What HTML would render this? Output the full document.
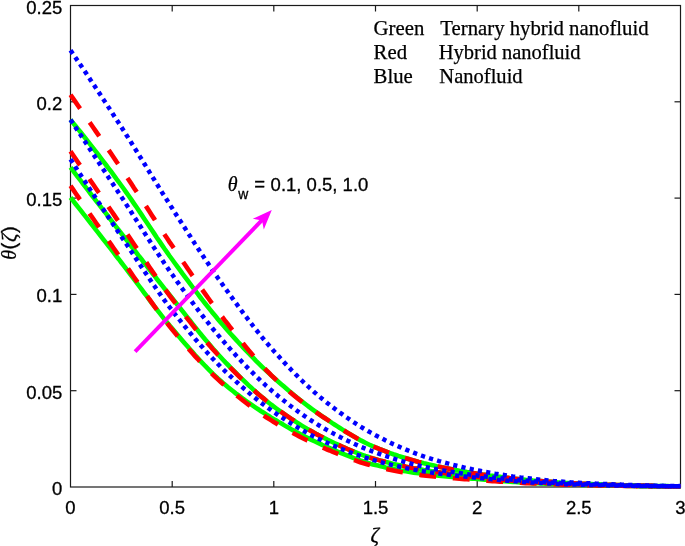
<!DOCTYPE html>
<html><head><meta charset="utf-8"><title>Temperature profile</title>
<style>
html,body{margin:0;padding:0;background:#fff;}
body{width:685px;height:546px;overflow:hidden;}
svg{display:block;}
.t{font-family:"Liberation Sans",Arial,sans-serif;font-size:18.5px;fill:#000;stroke:#000;stroke-width:0.3px;}
.s{font-family:"Liberation Serif","Times New Roman",serif;font-size:20.75px;fill:#000;stroke:#000;stroke-width:0.25px;}
.z{font-family:"Liberation Serif",serif;font-size:21px;}
</style></head><body>
<svg width="685" height="546" viewBox="0 0 685 546">
<rect width="685" height="546" fill="#fff"/>
<rect x="70.5" y="5.5" width="610.0" height="481.5" fill="none" stroke="#1a1a1a" stroke-width="1.2"/>
<line x1="172.2" y1="487.0" x2="172.2" y2="481.0" stroke="#1a1a1a" stroke-width="1.2"/>
<line x1="172.2" y1="5.5" x2="172.2" y2="11.5" stroke="#1a1a1a" stroke-width="1.2"/>
<line x1="273.8" y1="487.0" x2="273.8" y2="481.0" stroke="#1a1a1a" stroke-width="1.2"/>
<line x1="273.8" y1="5.5" x2="273.8" y2="11.5" stroke="#1a1a1a" stroke-width="1.2"/>
<line x1="375.5" y1="487.0" x2="375.5" y2="481.0" stroke="#1a1a1a" stroke-width="1.2"/>
<line x1="375.5" y1="5.5" x2="375.5" y2="11.5" stroke="#1a1a1a" stroke-width="1.2"/>
<line x1="477.2" y1="487.0" x2="477.2" y2="481.0" stroke="#1a1a1a" stroke-width="1.2"/>
<line x1="477.2" y1="5.5" x2="477.2" y2="11.5" stroke="#1a1a1a" stroke-width="1.2"/>
<line x1="578.8" y1="487.0" x2="578.8" y2="481.0" stroke="#1a1a1a" stroke-width="1.2"/>
<line x1="578.8" y1="5.5" x2="578.8" y2="11.5" stroke="#1a1a1a" stroke-width="1.2"/>
<line x1="70.5" y1="390.7" x2="76.5" y2="390.7" stroke="#1a1a1a" stroke-width="1.2"/>
<line x1="680.5" y1="390.7" x2="674.5" y2="390.7" stroke="#1a1a1a" stroke-width="1.2"/>
<line x1="70.5" y1="294.4" x2="76.5" y2="294.4" stroke="#1a1a1a" stroke-width="1.2"/>
<line x1="680.5" y1="294.4" x2="674.5" y2="294.4" stroke="#1a1a1a" stroke-width="1.2"/>
<line x1="70.5" y1="198.1" x2="76.5" y2="198.1" stroke="#1a1a1a" stroke-width="1.2"/>
<line x1="680.5" y1="198.1" x2="674.5" y2="198.1" stroke="#1a1a1a" stroke-width="1.2"/>
<line x1="70.5" y1="101.8" x2="76.5" y2="101.8" stroke="#1a1a1a" stroke-width="1.2"/>
<line x1="680.5" y1="101.8" x2="674.5" y2="101.8" stroke="#1a1a1a" stroke-width="1.2"/>
<defs><clipPath id="c"><rect x="67.5" y="5.5" width="613.6" height="485.5"/></clipPath></defs>
<g clip-path="url(#c)">
<polyline fill="none" stroke="#00ff00" stroke-width="4.6" points="70.5,197.5 73.0,200.7 75.6,204.0 78.1,207.2 80.7,210.4 83.2,213.7 85.8,216.9 88.3,220.1 90.8,223.4 93.4,226.6 95.9,229.9 98.5,233.1 101.0,236.4 103.5,239.6 106.1,242.9 108.6,246.2 111.2,249.4 113.7,252.7 116.2,256.0 118.8,259.2 121.3,262.5 123.9,265.8 126.4,269.1 129.0,272.5 131.5,275.8 134.0,279.2 136.6,282.6 139.1,286.0 141.7,289.4 144.2,292.8 146.8,296.2 149.3,299.6 151.8,303.0 154.4,306.3 156.9,309.6 159.5,312.9 162.0,316.1 164.5,319.3 167.1,322.4 169.6,325.5 172.2,328.5 174.7,331.5 177.2,334.5 179.8,337.5 182.3,340.4 184.9,343.4 187.4,346.3 190.0,349.2 192.5,352.1 195.0,355.0 197.6,357.8 200.1,360.6 202.7,363.3 205.2,366.0 207.8,368.6 210.3,371.2 212.8,373.7 215.4,376.1 217.9,378.5 220.5,380.8 223.0,383.0 225.5,385.1 228.1,387.3 230.6,389.3 233.2,391.3 235.7,393.3 238.3,395.2 240.8,397.1 243.3,399.0 245.9,400.8 248.4,402.6 251.0,404.4 253.5,406.1 256.0,407.8 258.6,409.5 261.1,411.2 263.7,412.8 266.2,414.4 268.8,416.0 271.3,417.6 273.8,419.1 276.4,420.6 278.9,422.1 281.5,423.6 284.0,425.1 286.5,426.6 289.1,428.0 291.6,429.5 294.2,430.9 296.7,432.3 299.2,433.6 301.8,435.0 304.3,436.3 306.9,437.6 309.4,438.9 312.0,440.1 314.5,441.3 317.0,442.5 319.6,443.7 322.1,444.9 324.7,446.0 327.2,447.1 329.8,448.2 332.3,449.3 334.8,450.4 337.4,451.5 339.9,452.6 342.5,453.7 345.0,454.7 347.5,455.7 350.1,456.7 352.6,457.7 355.2,458.7 357.7,459.6 360.2,460.5 362.8,461.3 365.3,462.1 367.9,462.9 370.4,463.7 373.0,464.4 375.5,465.0 378.0,465.6 380.6,466.2 383.1,466.8 385.7,467.4 388.2,467.9 390.8,468.5 393.3,469.0 395.8,469.5 398.4,470.0 400.9,470.4 403.5,470.9 406.0,471.3 408.5,471.8 411.1,472.2 413.6,472.6 416.2,472.9 418.7,473.3 421.2,473.6 423.8,474.0 426.3,474.3 428.9,474.6 431.4,474.9 434.0,475.2 436.5,475.5 439.0,475.7 441.6,476.0 444.1,476.2 446.7,476.5 449.2,476.7 451.8,476.9 454.3,477.1 456.8,477.3 459.4,477.6 461.9,477.8 464.5,478.0 467.0,478.2 469.5,478.4 472.1,478.6 474.6,478.8 477.2,479.0 479.7,479.2 482.2,479.4 484.8,479.6 487.3,479.8 489.9,480.1 492.4,480.3 495.0,480.5 497.5,480.7 500.0,480.9 502.6,481.1 505.1,481.3 507.7,481.5 510.2,481.7 512.8,481.9 515.3,482.0 517.8,482.2 520.4,482.4 522.9,482.5 525.5,482.7 528.0,482.8 530.5,482.9 533.1,483.1 535.6,483.2 538.2,483.3 540.7,483.4 543.2,483.5 545.8,483.7 548.3,483.8 550.9,483.9 553.4,484.0 556.0,484.1 558.5,484.2 561.0,484.3 563.6,484.4 566.1,484.4 568.7,484.5 571.2,484.6 573.8,484.7 576.3,484.7 578.8,484.8 581.4,484.9 583.9,484.9 586.5,485.0 589.0,485.0 591.5,485.1 594.1,485.2 596.6,485.2 599.2,485.3 601.7,485.3 604.2,485.4 606.8,485.4 609.3,485.5 611.9,485.6 614.4,485.6 617.0,485.7 619.5,485.7 622.0,485.8 624.6,485.8 627.1,485.9 629.7,485.9 632.2,485.9 634.8,486.0 637.3,486.0 639.8,486.1 642.4,486.1 644.9,486.1 647.5,486.2 650.0,486.2 652.5,486.2 655.1,486.3 657.6,486.3 660.2,486.3 662.7,486.3 665.3,486.3 667.8,486.4 670.3,486.4 672.9,486.4 675.4,486.4 678.0,486.4 680.5,486.4"/>
<polyline fill="none" stroke="#00ff00" stroke-width="4.6" points="70.5,167.4 73.0,170.7 75.6,174.1 78.1,177.4 80.7,180.7 83.2,184.0 85.8,187.3 88.3,190.6 90.8,194.0 93.4,197.3 95.9,200.6 98.5,203.9 101.0,207.2 103.5,210.4 106.1,213.7 108.6,217.0 111.2,220.3 113.7,223.6 116.2,226.9 118.8,230.1 121.3,233.4 123.9,236.7 126.4,239.9 129.0,243.2 131.5,246.5 134.0,249.7 136.6,253.0 139.1,256.3 141.7,259.5 144.2,262.8 146.8,266.0 149.3,269.3 151.8,272.5 154.4,275.7 156.9,279.0 159.5,282.2 162.0,285.4 164.5,288.6 167.1,291.8 169.6,294.9 172.2,298.1 174.7,301.3 177.2,304.5 179.8,307.7 182.3,310.9 184.9,314.1 187.4,317.3 190.0,320.5 192.5,323.8 195.0,327.0 197.6,330.1 200.1,333.3 202.7,336.4 205.2,339.5 207.8,342.5 210.3,345.5 212.8,348.5 215.4,351.4 217.9,354.2 220.5,357.0 223.0,359.7 225.5,362.4 228.1,365.0 230.6,367.6 233.2,370.2 235.7,372.7 238.3,375.3 240.8,377.8 243.3,380.2 245.9,382.7 248.4,385.1 251.0,387.4 253.5,389.8 256.0,392.0 258.6,394.3 261.1,396.4 263.7,398.6 266.2,400.7 268.8,402.7 271.3,404.7 273.8,406.6 276.4,408.5 278.9,410.3 281.5,412.1 284.0,413.9 286.5,415.7 289.1,417.4 291.6,419.1 294.2,420.8 296.7,422.4 299.2,424.0 301.8,425.6 304.3,427.1 306.9,428.7 309.4,430.1 312.0,431.6 314.5,433.0 317.0,434.4 319.6,435.7 322.1,437.0 324.7,438.3 327.2,439.6 329.8,440.8 332.3,442.0 334.8,443.2 337.4,444.4 339.9,445.6 342.5,446.8 345.0,447.9 347.5,449.0 350.1,450.1 352.6,451.1 355.2,452.2 357.7,453.2 360.2,454.1 362.8,455.1 365.3,456.0 367.9,456.8 370.4,457.7 373.0,458.5 375.5,459.2 378.0,459.9 380.6,460.6 383.1,461.3 385.7,462.0 388.2,462.6 390.8,463.2 393.3,463.9 395.8,464.4 398.4,465.0 400.9,465.6 403.5,466.1 406.0,466.7 408.5,467.2 411.1,467.7 413.6,468.2 416.2,468.6 418.7,469.1 421.2,469.5 423.8,470.0 426.3,470.4 428.9,470.8 431.4,471.2 434.0,471.6 436.5,472.0 439.0,472.3 441.6,472.7 444.1,473.0 446.7,473.4 449.2,473.7 451.8,474.0 454.3,474.4 456.8,474.7 459.4,475.0 461.9,475.3 464.5,475.6 467.0,475.9 469.5,476.2 472.1,476.4 474.6,476.7 477.2,477.0 479.7,477.3 482.2,477.6 484.8,477.8 487.3,478.1 489.9,478.4 492.4,478.6 495.0,478.9 497.5,479.2 500.0,479.4 502.6,479.7 505.1,479.9 507.7,480.2 510.2,480.4 512.8,480.6 515.3,480.8 517.8,481.0 520.4,481.2 522.9,481.4 525.5,481.6 528.0,481.8 530.5,482.0 533.1,482.1 535.6,482.3 538.2,482.5 540.7,482.6 543.2,482.8 545.8,482.9 548.3,483.1 550.9,483.2 553.4,483.3 556.0,483.5 558.5,483.6 561.0,483.7 563.6,483.8 566.1,483.9 568.7,484.0 571.2,484.1 573.8,484.2 576.3,484.3 578.8,484.4 581.4,484.5 583.9,484.5 586.5,484.6 589.0,484.7 591.5,484.8 594.1,484.8 596.6,484.9 599.2,485.0 601.7,485.0 604.2,485.1 606.8,485.2 609.3,485.2 611.9,485.3 614.4,485.4 617.0,485.4 619.5,485.5 622.0,485.6 624.6,485.6 627.1,485.7 629.7,485.7 632.2,485.8 634.8,485.8 637.3,485.9 639.8,485.9 642.4,486.0 644.9,486.0 647.5,486.0 650.0,486.1 652.5,486.1 655.1,486.1 657.6,486.2 660.2,486.2 662.7,486.2 665.3,486.2 667.8,486.3 670.3,486.3 672.9,486.3 675.4,486.3 678.0,486.3 680.5,486.3"/>
<polyline fill="none" stroke="#00ff00" stroke-width="4.6" points="70.5,119.8 73.0,122.9 75.6,126.0 78.1,129.1 80.7,132.3 83.2,135.5 85.8,138.7 88.3,141.9 90.8,145.1 93.4,148.4 95.9,151.6 98.5,154.9 101.0,158.3 103.5,161.6 106.1,165.0 108.6,168.3 111.2,171.7 113.7,175.1 116.2,178.6 118.8,182.0 121.3,185.5 123.9,189.0 126.4,192.6 129.0,196.2 131.5,199.9 134.0,203.6 136.6,207.3 139.1,211.1 141.7,214.9 144.2,218.7 146.8,222.5 149.3,226.3 151.8,230.1 154.4,233.9 156.9,237.7 159.5,241.4 162.0,245.1 164.5,248.8 167.1,252.4 169.6,256.0 172.2,259.5 174.7,263.0 177.2,266.4 179.8,269.9 182.3,273.4 184.9,276.8 187.4,280.2 190.0,283.6 192.5,287.0 195.0,290.4 197.6,293.7 200.1,297.0 202.7,300.3 205.2,303.5 207.8,306.7 210.3,309.9 212.8,313.0 215.4,316.1 217.9,319.2 220.5,322.2 223.0,325.1 225.5,328.0 228.1,330.9 230.6,333.8 233.2,336.6 235.7,339.4 238.3,342.2 240.8,344.9 243.3,347.6 245.9,350.3 248.4,353.0 251.0,355.6 253.5,358.2 256.0,360.8 258.6,363.3 261.1,365.8 263.7,368.3 266.2,370.7 268.8,373.1 271.3,375.4 273.8,377.7 276.4,380.0 278.9,382.2 281.5,384.4 284.0,386.6 286.5,388.8 289.1,391.0 291.6,393.1 294.2,395.2 296.7,397.3 299.2,399.3 301.8,401.3 304.3,403.3 306.9,405.3 309.4,407.2 312.0,409.1 314.5,410.9 317.0,412.7 319.6,414.5 322.1,416.3 324.7,418.0 327.2,419.7 329.8,421.4 332.3,423.1 334.8,424.7 337.4,426.4 339.9,428.0 342.5,429.6 345.0,431.2 347.5,432.8 350.1,434.3 352.6,435.8 355.2,437.3 357.7,438.7 360.2,440.1 362.8,441.4 365.3,442.7 367.9,444.0 370.4,445.2 373.0,446.3 375.5,447.4 378.0,448.4 380.6,449.5 383.1,450.4 385.7,451.4 388.2,452.3 390.8,453.3 393.3,454.2 395.8,455.0 398.4,455.9 400.9,456.7 403.5,457.5 406.0,458.3 408.5,459.0 411.1,459.8 413.6,460.5 416.2,461.2 418.7,461.9 421.2,462.5 423.8,463.2 426.3,463.8 428.9,464.4 431.4,465.0 434.0,465.6 436.5,466.2 439.0,466.7 441.6,467.3 444.1,467.8 446.7,468.3 449.2,468.8 451.8,469.3 454.3,469.8 456.8,470.3 459.4,470.8 461.9,471.2 464.5,471.6 467.0,472.1 469.5,472.5 472.1,472.9 474.6,473.3 477.2,473.7 479.7,474.1 482.2,474.5 484.8,474.8 487.3,475.2 489.9,475.6 492.4,475.9 495.0,476.2 497.5,476.6 500.0,476.9 502.6,477.2 505.1,477.6 507.7,477.9 510.2,478.2 512.8,478.5 515.3,478.7 517.8,479.0 520.4,479.3 522.9,479.5 525.5,479.8 528.0,480.0 530.5,480.2 533.1,480.5 535.6,480.7 538.2,480.9 540.7,481.1 543.2,481.3 545.8,481.5 548.3,481.7 550.9,481.9 553.4,482.1 556.0,482.3 558.5,482.5 561.0,482.7 563.6,482.8 566.1,483.0 568.7,483.1 571.2,483.3 573.8,483.4 576.3,483.5 578.8,483.6 581.4,483.7 583.9,483.8 586.5,483.9 589.0,484.0 591.5,484.1 594.1,484.2 596.6,484.3 599.2,484.4 601.7,484.5 604.2,484.6 606.8,484.7 609.3,484.8 611.9,484.8 614.4,484.9 617.0,485.0 619.5,485.1 622.0,485.2 624.6,485.3 627.1,485.3 629.7,485.4 632.2,485.5 634.8,485.5 637.3,485.6 639.8,485.7 642.4,485.7 644.9,485.8 647.5,485.8 650.0,485.9 652.5,485.9 655.1,486.0 657.6,486.0 660.2,486.1 662.7,486.1 665.3,486.1 667.8,486.1 670.3,486.2 672.9,486.2 675.4,486.2 678.0,486.2 680.5,486.2"/>
<polyline fill="none" stroke="#ff0000" stroke-width="4.6" stroke-dasharray="16.8 16.8" points="70.5,185.7 73.0,189.4 75.6,193.2 78.1,196.9 80.7,200.6 83.2,204.3 85.8,208.0 88.3,211.7 90.8,215.4 93.4,219.0 95.9,222.7 98.5,226.4 101.0,230.0 103.5,233.7 106.1,237.3 108.6,240.9 111.2,244.6 113.7,248.2 116.2,251.8 118.8,255.4 121.3,259.0 123.9,262.6 126.4,266.2 129.0,269.9 131.5,273.6 134.0,277.2 136.6,280.9 139.1,284.6 141.7,288.3 144.2,291.9 146.8,295.5 149.3,299.2 151.8,302.7 154.4,306.3 156.9,309.8 159.5,313.2 162.0,316.6 164.5,319.9 167.1,323.2 169.6,326.4 172.2,329.5 174.7,332.6 177.2,335.6 179.8,338.6 182.3,341.6 184.9,344.6 187.4,347.5 190.0,350.4 192.5,353.2 195.0,356.1 197.6,358.8 200.1,361.6 202.7,364.3 205.2,366.9 207.8,369.5 210.3,372.1 212.8,374.6 215.4,377.0 217.9,379.4 220.5,381.7 223.0,384.0 225.5,386.2 228.1,388.4 230.6,390.6 233.2,392.7 235.7,394.8 238.3,396.8 240.8,398.8 243.3,400.8 245.9,402.8 248.4,404.7 251.0,406.6 253.5,408.4 256.0,410.3 258.6,412.0 261.1,413.8 263.7,415.5 266.2,417.2 268.8,418.8 271.3,420.4 273.8,422.0 276.4,423.5 278.9,425.1 281.5,426.6 284.0,428.0 286.5,429.5 289.1,430.9 291.6,432.3 294.2,433.7 296.7,435.1 299.2,436.4 301.8,437.7 304.3,439.0 306.9,440.3 309.4,441.5 312.0,442.7 314.5,443.9 317.0,445.1 319.6,446.2 322.1,447.3 324.7,448.4 327.2,449.5 329.8,450.5 332.3,451.6 334.8,452.6 337.4,453.7 339.9,454.7 342.5,455.7 345.0,456.7 347.5,457.7 350.1,458.6 352.6,459.5 355.2,460.4 357.7,461.3 360.2,462.2 362.8,463.0 365.3,463.7 367.9,464.5 370.4,465.2 373.0,465.9 375.5,466.5 378.0,467.1 380.6,467.7 383.1,468.3 385.7,468.8 388.2,469.4 390.8,469.9 393.3,470.4 395.8,470.9 398.4,471.4 400.9,471.9 403.5,472.3 406.0,472.8 408.5,473.2 411.1,473.6 413.6,474.0 416.2,474.4 418.7,474.7 421.2,475.1 423.8,475.4 426.3,475.7 428.9,476.0 431.4,476.3 434.0,476.5 436.5,476.8 439.0,477.0 441.6,477.3 444.1,477.5 446.7,477.7 449.2,477.9 451.8,478.1 454.3,478.3 456.8,478.5 459.4,478.7 461.9,478.9 464.5,479.1 467.0,479.3 469.5,479.5 472.1,479.6 474.6,479.8 477.2,480.0 479.7,480.2 482.2,480.4 484.8,480.5 487.3,480.7 489.9,480.9 492.4,481.1 495.0,481.3 497.5,481.4 500.0,481.6 502.6,481.8 505.1,481.9 507.7,482.1 510.2,482.2 512.8,482.4 515.3,482.5 517.8,482.7 520.4,482.8 522.9,483.0 525.5,483.1 528.0,483.2 530.5,483.3 533.1,483.4 535.6,483.5 538.2,483.6 540.7,483.8 543.2,483.9 545.8,484.0 548.3,484.1 550.9,484.2 553.4,484.3 556.0,484.3 558.5,484.4 561.0,484.5 563.6,484.6 566.1,484.7 568.7,484.8 571.2,484.8 573.8,484.9 576.3,484.9 578.8,485.0 581.4,485.1 583.9,485.1 586.5,485.2 589.0,485.2 591.5,485.3 594.1,485.3 596.6,485.4 599.2,485.4 601.7,485.5 604.2,485.5 606.8,485.6 609.3,485.6 611.9,485.7 614.4,485.7 617.0,485.8 619.5,485.8 622.0,485.8 624.6,485.9 627.1,485.9 629.7,486.0 632.2,486.0 634.8,486.0 637.3,486.1 639.8,486.1 642.4,486.1 644.9,486.2 647.5,486.2 650.0,486.2 652.5,486.3 655.1,486.3 657.6,486.3 660.2,486.3 662.7,486.3 665.3,486.4 667.8,486.4 670.3,486.4 672.9,486.4 675.4,486.4 678.0,486.4 680.5,486.4"/>
<polyline fill="none" stroke="#ff0000" stroke-width="4.6" stroke-dasharray="16.8 16.8" points="70.5,151.3 73.0,155.0 75.6,158.8 78.1,162.5 80.7,166.2 83.2,169.9 85.8,173.6 88.3,177.3 90.8,181.1 93.4,184.8 95.9,188.5 98.5,192.2 101.0,195.9 103.5,199.6 106.1,203.3 108.6,207.0 111.2,210.7 113.7,214.4 116.2,218.1 118.8,221.8 121.3,225.5 123.9,229.2 126.4,232.9 129.0,236.7 131.5,240.5 134.0,244.2 136.6,248.0 139.1,251.8 141.7,255.6 144.2,259.4 146.8,263.1 149.3,266.9 151.8,270.6 154.4,274.3 156.9,278.0 159.5,281.6 162.0,285.2 164.5,288.7 167.1,292.2 169.6,295.6 172.2,299.0 174.7,302.3 177.2,305.6 179.8,308.9 182.3,312.2 184.9,315.5 187.4,318.7 190.0,321.9 192.5,325.1 195.0,328.2 197.6,331.4 200.1,334.4 202.7,337.5 205.2,340.5 207.8,343.4 210.3,346.3 212.8,349.2 215.4,352.0 217.9,354.8 220.5,357.5 223.0,360.2 225.5,362.8 228.1,365.4 230.6,368.0 233.2,370.6 235.7,373.1 238.3,375.6 240.8,378.1 243.3,380.5 245.9,382.9 248.4,385.3 251.0,387.6 253.5,389.9 256.0,392.2 258.6,394.4 261.1,396.5 263.7,398.6 266.2,400.7 268.8,402.7 271.3,404.7 273.8,406.6 276.4,408.5 278.9,410.3 281.5,412.1 284.0,413.9 286.5,415.7 289.1,417.4 291.6,419.1 294.2,420.8 296.7,422.4 299.2,424.0 301.8,425.6 304.3,427.1 306.9,428.6 309.4,430.1 312.0,431.6 314.5,433.0 317.0,434.4 319.6,435.7 322.1,437.0 324.7,438.3 327.2,439.6 329.8,440.8 332.3,442.0 334.8,443.2 337.4,444.4 339.9,445.6 342.5,446.8 345.0,447.9 347.5,449.0 350.1,450.1 352.6,451.1 355.2,452.2 357.7,453.2 360.2,454.1 362.8,455.1 365.3,456.0 367.9,456.8 370.4,457.7 373.0,458.5 375.5,459.2 378.0,459.9 380.6,460.6 383.1,461.3 385.7,462.0 388.2,462.6 390.8,463.2 393.3,463.9 395.8,464.4 398.4,465.0 400.9,465.6 403.5,466.1 406.0,466.7 408.5,467.2 411.1,467.7 413.6,468.2 416.2,468.6 418.7,469.1 421.2,469.5 423.8,470.0 426.3,470.4 428.9,470.8 431.4,471.2 434.0,471.6 436.5,472.0 439.0,472.3 441.6,472.7 444.1,473.0 446.7,473.4 449.2,473.7 451.8,474.0 454.3,474.4 456.8,474.7 459.4,475.0 461.9,475.3 464.5,475.6 467.0,475.9 469.5,476.2 472.1,476.4 474.6,476.7 477.2,477.0 479.7,477.3 482.2,477.6 484.8,477.8 487.3,478.1 489.9,478.4 492.4,478.6 495.0,478.9 497.5,479.2 500.0,479.4 502.6,479.7 505.1,479.9 507.7,480.2 510.2,480.4 512.8,480.6 515.3,480.8 517.8,481.0 520.4,481.2 522.9,481.4 525.5,481.6 528.0,481.8 530.5,482.0 533.1,482.1 535.6,482.3 538.2,482.5 540.7,482.6 543.2,482.8 545.8,482.9 548.3,483.1 550.9,483.2 553.4,483.3 556.0,483.5 558.5,483.6 561.0,483.7 563.6,483.8 566.1,483.9 568.7,484.0 571.2,484.1 573.8,484.2 576.3,484.3 578.8,484.4 581.4,484.5 583.9,484.5 586.5,484.6 589.0,484.7 591.5,484.8 594.1,484.8 596.6,484.9 599.2,485.0 601.7,485.0 604.2,485.1 606.8,485.2 609.3,485.2 611.9,485.3 614.4,485.4 617.0,485.4 619.5,485.5 622.0,485.6 624.6,485.6 627.1,485.7 629.7,485.7 632.2,485.8 634.8,485.8 637.3,485.9 639.8,485.9 642.4,486.0 644.9,486.0 647.5,486.0 650.0,486.1 652.5,486.1 655.1,486.1 657.6,486.2 660.2,486.2 662.7,486.2 665.3,486.2 667.8,486.3 670.3,486.3 672.9,486.3 675.4,486.3 678.0,486.3 680.5,486.3"/>
<polyline fill="none" stroke="#ff0000" stroke-width="4.6" stroke-dasharray="16.8 16.8" points="70.5,94.8 73.0,98.4 75.6,102.1 78.1,105.7 80.7,109.4 83.2,113.0 85.8,116.7 88.3,120.4 90.8,124.0 93.4,127.7 95.9,131.4 98.5,135.1 101.0,138.8 103.5,142.6 106.1,146.3 108.6,150.0 111.2,153.8 113.7,157.5 116.2,161.3 118.8,165.0 121.3,168.8 123.9,172.6 126.4,176.4 129.0,180.2 131.5,184.1 134.0,188.0 136.6,191.8 139.1,195.7 141.7,199.6 144.2,203.5 146.8,207.4 149.3,211.3 151.8,215.2 154.4,219.1 156.9,223.0 159.5,226.8 162.0,230.7 164.5,234.5 167.1,238.3 169.6,242.1 172.2,245.8 174.7,249.5 177.2,253.3 179.8,257.0 182.3,260.8 184.9,264.5 187.4,268.2 190.0,272.0 192.5,275.7 195.0,279.4 197.6,283.0 200.1,286.7 202.7,290.3 205.2,293.9 207.8,297.5 210.3,301.0 212.8,304.5 215.4,308.0 217.9,311.4 220.5,314.7 223.0,318.0 225.5,321.3 228.1,324.5 230.6,327.8 233.2,331.0 235.7,334.3 238.3,337.5 240.8,340.7 243.3,343.8 245.9,346.9 248.4,350.0 251.0,353.0 253.5,356.0 256.0,359.0 258.6,361.8 261.1,364.7 263.7,367.4 266.2,370.1 268.8,372.7 271.3,375.3 273.8,377.7 276.4,380.1 278.9,382.4 281.5,384.7 284.0,387.0 286.5,389.2 289.1,391.3 291.6,393.5 294.2,395.6 296.7,397.6 299.2,399.6 301.8,401.6 304.3,403.5 306.9,405.4 309.4,407.3 312.0,409.2 314.5,411.0 317.0,412.8 319.6,414.6 322.1,416.3 324.7,418.0 327.2,419.7 329.8,421.4 332.3,423.1 334.8,424.7 337.4,426.4 339.9,428.0 342.5,429.6 345.0,431.2 347.5,432.8 350.1,434.3 352.6,435.8 355.2,437.3 357.7,438.7 360.2,440.1 362.8,441.4 365.3,442.7 367.9,444.0 370.4,445.2 373.0,446.3 375.5,447.4 378.0,448.4 380.6,449.5 383.1,450.4 385.7,451.4 388.2,452.3 390.8,453.3 393.3,454.2 395.8,455.0 398.4,455.9 400.9,456.7 403.5,457.5 406.0,458.3 408.5,459.0 411.1,459.8 413.6,460.5 416.2,461.2 418.7,461.9 421.2,462.5 423.8,463.2 426.3,463.8 428.9,464.4 431.4,465.0 434.0,465.6 436.5,466.2 439.0,466.7 441.6,467.3 444.1,467.8 446.7,468.3 449.2,468.8 451.8,469.3 454.3,469.8 456.8,470.3 459.4,470.8 461.9,471.2 464.5,471.6 467.0,472.1 469.5,472.5 472.1,472.9 474.6,473.3 477.2,473.7 479.7,474.1 482.2,474.5 484.8,474.8 487.3,475.2 489.9,475.6 492.4,475.9 495.0,476.2 497.5,476.6 500.0,476.9 502.6,477.2 505.1,477.6 507.7,477.9 510.2,478.2 512.8,478.5 515.3,478.7 517.8,479.0 520.4,479.3 522.9,479.5 525.5,479.8 528.0,480.0 530.5,480.2 533.1,480.5 535.6,480.7 538.2,480.9 540.7,481.1 543.2,481.3 545.8,481.5 548.3,481.7 550.9,481.9 553.4,482.1 556.0,482.3 558.5,482.5 561.0,482.7 563.6,482.8 566.1,483.0 568.7,483.1 571.2,483.3 573.8,483.4 576.3,483.5 578.8,483.6 581.4,483.7 583.9,483.8 586.5,483.9 589.0,484.0 591.5,484.1 594.1,484.2 596.6,484.3 599.2,484.4 601.7,484.5 604.2,484.6 606.8,484.7 609.3,484.8 611.9,484.8 614.4,484.9 617.0,485.0 619.5,485.1 622.0,485.2 624.6,485.3 627.1,485.3 629.7,485.4 632.2,485.5 634.8,485.5 637.3,485.6 639.8,485.7 642.4,485.7 644.9,485.8 647.5,485.8 650.0,485.9 652.5,485.9 655.1,486.0 657.6,486.0 660.2,486.1 662.7,486.1 665.3,486.1 667.8,486.1 670.3,486.2 672.9,486.2 675.4,486.2 678.0,486.2 680.5,486.2"/>
<polyline fill="none" stroke="#0000ff" stroke-width="4.5" stroke-dasharray="4.2 4.2" points="70.5,159.3 73.0,163.2 75.6,167.2 78.1,171.1 80.7,175.0 83.2,178.9 85.8,182.8 88.3,186.7 90.8,190.6 93.4,194.4 95.9,198.3 98.5,202.2 101.0,206.0 103.5,209.8 106.1,213.7 108.6,217.5 111.2,221.3 113.7,225.1 116.2,228.9 118.8,232.7 121.3,236.5 123.9,240.3 126.4,244.1 129.0,247.9 131.5,251.8 134.0,255.6 136.6,259.5 139.1,263.3 141.7,267.2 144.2,271.0 146.8,274.8 149.3,278.5 151.8,282.3 154.4,286.0 156.9,289.7 159.5,293.3 162.0,296.9 164.5,300.4 167.1,303.8 169.6,307.2 172.2,310.5 174.7,313.8 177.2,317.0 179.8,320.2 182.3,323.4 184.9,326.5 187.4,329.6 190.0,332.7 192.5,335.8 195.0,338.8 197.6,341.8 200.1,344.7 202.7,347.6 205.2,350.5 207.8,353.3 210.3,356.0 212.8,358.7 215.4,361.4 217.9,364.0 220.5,366.6 223.0,369.1 225.5,371.6 228.1,374.0 230.6,376.4 233.2,378.8 235.7,381.2 238.3,383.5 240.8,385.8 243.3,388.0 245.9,390.2 248.4,392.4 251.0,394.6 253.5,396.7 256.0,398.7 258.6,400.8 261.1,402.8 263.7,404.7 266.2,406.6 268.8,408.5 271.3,410.3 273.8,412.1 276.4,413.8 278.9,415.6 281.5,417.3 284.0,418.9 286.5,420.6 289.1,422.2 291.6,423.8 294.2,425.4 296.7,426.9 299.2,428.4 301.8,429.9 304.3,431.3 306.9,432.7 309.4,434.1 312.0,435.5 314.5,436.8 317.0,438.1 319.6,439.3 322.1,440.5 324.7,441.7 327.2,442.8 329.8,444.0 332.3,445.1 334.8,446.2 337.4,447.2 339.9,448.3 342.5,449.3 345.0,450.3 347.5,451.3 350.1,452.3 352.6,453.2 355.2,454.1 357.7,455.0 360.2,455.9 362.8,456.8 365.3,457.6 367.9,458.4 370.4,459.1 373.0,459.9 375.5,460.6 378.0,461.3 380.6,462.0 383.1,462.7 385.7,463.3 388.2,464.0 390.8,464.6 393.3,465.2 395.8,465.8 398.4,466.4 400.9,467.0 403.5,467.5 406.0,468.1 408.5,468.6 411.1,469.1 413.6,469.6 416.2,470.1 418.7,470.5 421.2,471.0 423.8,471.4 426.3,471.8 428.9,472.2 431.4,472.6 434.0,472.9 436.5,473.3 439.0,473.6 441.6,473.9 444.1,474.2 446.7,474.5 449.2,474.8 451.8,475.1 454.3,475.4 456.8,475.7 459.4,476.0 461.9,476.2 464.5,476.5 467.0,476.8 469.5,477.0 472.1,477.3 474.6,477.5 477.2,477.8 479.7,478.1 482.2,478.3 484.8,478.6 487.3,478.8 489.9,479.1 492.4,479.3 495.0,479.5 497.5,479.8 500.0,480.0 502.6,480.2 505.1,480.5 507.7,480.7 510.2,480.9 512.8,481.1 515.3,481.3 517.8,481.5 520.4,481.7 522.9,481.9 525.5,482.0 528.0,482.2 530.5,482.4 533.1,482.5 535.6,482.7 538.2,482.8 540.7,482.9 543.2,483.1 545.8,483.2 548.3,483.4 550.9,483.5 553.4,483.6 556.0,483.7 558.5,483.9 561.0,484.0 563.6,484.1 566.1,484.2 568.7,484.3 571.2,484.4 573.8,484.5 576.3,484.5 578.8,484.6 581.4,484.7 583.9,484.7 586.5,484.8 589.0,484.9 591.5,484.9 594.1,485.0 596.6,485.1 599.2,485.1 601.7,485.2 604.2,485.2 606.8,485.3 609.3,485.4 611.9,485.4 614.4,485.5 617.0,485.5 619.5,485.6 622.0,485.6 624.6,485.7 627.1,485.7 629.7,485.8 632.2,485.8 634.8,485.9 637.3,485.9 639.8,486.0 642.4,486.0 644.9,486.0 647.5,486.1 650.0,486.1 652.5,486.1 655.1,486.2 657.6,486.2 660.2,486.2 662.7,486.2 665.3,486.2 667.8,486.3 670.3,486.3 672.9,486.3 675.4,486.3 678.0,486.3 680.5,486.3"/>
<polyline fill="none" stroke="#0000ff" stroke-width="4.5" stroke-dasharray="4.2 4.2" points="70.5,119.7 73.0,123.5 75.6,127.4 78.1,131.2 80.7,135.1 83.2,138.9 85.8,142.8 88.3,146.6 90.8,150.5 93.4,154.3 95.9,158.2 98.5,162.0 101.0,165.9 103.5,169.7 106.1,173.6 108.6,177.5 111.2,181.3 113.7,185.2 116.2,189.1 118.8,192.9 121.3,196.8 123.9,200.7 126.4,204.6 129.0,208.5 131.5,212.5 134.0,216.5 136.6,220.5 139.1,224.4 141.7,228.4 144.2,232.4 146.8,236.4 149.3,240.3 151.8,244.3 154.4,248.2 156.9,252.1 159.5,255.9 162.0,259.7 164.5,263.5 167.1,267.2 169.6,270.9 172.2,274.5 174.7,278.1 177.2,281.6 179.8,285.2 182.3,288.7 184.9,292.2 187.4,295.7 190.0,299.1 192.5,302.6 195.0,306.0 197.6,309.3 200.1,312.7 202.7,316.0 205.2,319.2 207.8,322.4 210.3,325.6 212.8,328.8 215.4,331.8 217.9,334.9 220.5,337.9 223.0,340.8 225.5,343.7 228.1,346.6 230.6,349.4 233.2,352.3 235.7,355.1 238.3,357.8 240.8,360.6 243.3,363.3 245.9,366.0 248.4,368.6 251.0,371.2 253.5,373.7 256.0,376.3 258.6,378.7 261.1,381.2 263.7,383.5 266.2,385.9 268.8,388.1 271.3,390.3 273.8,392.5 276.4,394.6 278.9,396.7 281.5,398.8 284.0,400.8 286.5,402.8 289.1,404.8 291.6,406.7 294.2,408.6 296.7,410.5 299.2,412.3 301.8,414.1 304.3,415.9 306.9,417.6 309.4,419.3 312.0,421.0 314.5,422.6 317.0,424.2 319.6,425.7 322.1,427.2 324.7,428.7 327.2,430.1 329.8,431.5 332.3,432.9 334.8,434.3 337.4,435.6 339.9,436.9 342.5,438.2 345.0,439.5 347.5,440.7 350.1,441.9 352.6,443.1 355.2,444.3 357.7,445.4 360.2,446.5 362.8,447.6 365.3,448.6 367.9,449.6 370.4,450.6 373.0,451.6 375.5,452.5 378.0,453.4 380.6,454.3 383.1,455.2 385.7,456.0 388.2,456.9 390.8,457.7 393.3,458.5 395.8,459.3 398.4,460.1 400.9,460.9 403.5,461.6 406.0,462.3 408.5,463.0 411.1,463.7 413.6,464.4 416.2,465.0 418.7,465.6 421.2,466.2 423.8,466.8 426.3,467.3 428.9,467.8 431.4,468.3 434.0,468.8 436.5,469.3 439.0,469.8 441.6,470.2 444.1,470.6 446.7,471.1 449.2,471.5 451.8,471.9 454.3,472.3 456.8,472.7 459.4,473.1 461.9,473.4 464.5,473.8 467.0,474.1 469.5,474.5 472.1,474.8 474.6,475.2 477.2,475.5 479.7,475.8 482.2,476.2 484.8,476.5 487.3,476.8 489.9,477.1 492.4,477.4 495.0,477.7 497.5,478.0 500.0,478.3 502.6,478.6 505.1,478.9 507.7,479.1 510.2,479.4 512.8,479.7 515.3,479.9 517.8,480.1 520.4,480.4 522.9,480.6 525.5,480.8 528.0,481.0 530.5,481.2 533.1,481.4 535.6,481.6 538.2,481.8 540.7,481.9 543.2,482.1 545.8,482.3 548.3,482.5 550.9,482.6 553.4,482.8 556.0,482.9 558.5,483.1 561.0,483.2 563.6,483.3 566.1,483.5 568.7,483.6 571.2,483.7 573.8,483.8 576.3,483.9 578.8,484.0 581.4,484.1 583.9,484.2 586.5,484.3 589.0,484.3 591.5,484.4 594.1,484.5 596.6,484.6 599.2,484.7 601.7,484.7 604.2,484.8 606.8,484.9 609.3,485.0 611.9,485.0 614.4,485.1 617.0,485.2 619.5,485.3 622.0,485.3 624.6,485.4 627.1,485.5 629.7,485.5 632.2,485.6 634.8,485.6 637.3,485.7 639.8,485.8 642.4,485.8 644.9,485.9 647.5,485.9 650.0,485.9 652.5,486.0 655.1,486.0 657.6,486.0 660.2,486.1 662.7,486.1 665.3,486.1 667.8,486.2 670.3,486.2 672.9,486.2 675.4,486.2 678.0,486.2 680.5,486.2"/>
<polyline fill="none" stroke="#0000ff" stroke-width="4.5" stroke-dasharray="4.2 4.2" points="70.5,50.2 73.0,53.9 75.6,57.7 78.1,61.4 80.7,65.2 83.2,69.0 85.8,72.8 88.3,76.6 90.8,80.4 93.4,84.2 95.9,88.0 98.5,91.9 101.0,95.7 103.5,99.6 106.1,103.5 108.6,107.4 111.2,111.3 113.7,115.2 116.2,119.1 118.8,123.1 121.3,127.0 123.9,131.0 126.4,135.0 129.0,139.0 131.5,143.0 134.0,147.1 136.6,151.2 139.1,155.3 141.7,159.4 144.2,163.5 146.8,167.6 149.3,171.8 151.8,175.9 154.4,180.0 156.9,184.1 159.5,188.2 162.0,192.3 164.5,196.3 167.1,200.3 169.6,204.3 172.2,208.3 174.7,212.3 177.2,216.2 179.8,220.2 182.3,224.1 184.9,228.1 187.4,232.1 190.0,236.0 192.5,239.9 195.0,243.9 197.6,247.8 200.1,251.6 202.7,255.5 205.2,259.3 207.8,263.1 210.3,266.9 212.8,270.7 215.4,274.4 217.9,278.0 220.5,281.6 223.0,285.2 225.5,288.7 228.1,292.3 230.6,295.8 233.2,299.3 235.7,302.8 238.3,306.3 240.8,309.7 243.3,313.1 245.9,316.5 248.4,319.9 251.0,323.2 253.5,326.5 256.0,329.7 258.6,332.9 261.1,336.1 263.7,339.2 266.2,342.2 268.8,345.2 271.3,348.1 273.8,351.0 276.4,353.8 278.9,356.6 281.5,359.4 284.0,362.2 286.5,364.9 289.1,367.6 291.6,370.2 294.2,372.8 296.7,375.4 299.2,378.0 301.8,380.5 304.3,382.9 306.9,385.3 309.4,387.7 312.0,390.0 314.5,392.3 317.0,394.5 319.6,396.7 322.1,398.8 324.7,400.9 327.2,402.9 329.8,404.9 332.3,406.9 334.8,408.8 337.4,410.7 339.9,412.6 342.5,414.4 345.0,416.3 347.5,418.0 350.1,419.8 352.6,421.5 355.2,423.2 357.7,424.8 360.2,426.4 362.8,428.0 365.3,429.5 367.9,431.0 370.4,432.4 373.0,433.8 375.5,435.2 378.0,436.5 380.6,437.8 383.1,439.1 385.7,440.4 388.2,441.6 390.8,442.9 393.3,444.1 395.8,445.2 398.4,446.4 400.9,447.5 403.5,448.6 406.0,449.7 408.5,450.7 411.1,451.7 413.6,452.7 416.2,453.7 418.7,454.6 421.2,455.5 423.8,456.4 426.3,457.2 428.9,458.0 431.4,458.8 434.0,459.6 436.5,460.3 439.0,461.1 441.6,461.8 444.1,462.5 446.7,463.2 449.2,463.9 451.8,464.6 454.3,465.2 456.8,465.8 459.4,466.4 461.9,467.0 464.5,467.6 467.0,468.2 469.5,468.7 472.1,469.3 474.6,469.8 477.2,470.3 479.7,470.8 482.2,471.3 484.8,471.8 487.3,472.2 489.9,472.7 492.4,473.1 495.0,473.6 497.5,474.0 500.0,474.4 502.6,474.8 505.1,475.2 507.7,475.6 510.2,476.0 512.8,476.4 515.3,476.7 517.8,477.0 520.4,477.4 522.9,477.7 525.5,478.0 528.0,478.3 530.5,478.6 533.1,478.9 535.6,479.1 538.2,479.4 540.7,479.7 543.2,480.0 545.8,480.2 548.3,480.5 550.9,480.7 553.4,481.0 556.0,481.2 558.5,481.4 561.0,481.6 563.6,481.8 566.1,482.0 568.7,482.2 571.2,482.4 573.8,482.5 576.3,482.7 578.8,482.8 581.4,482.9 583.9,483.0 586.5,483.2 589.0,483.3 591.5,483.4 594.1,483.5 596.6,483.7 599.2,483.8 601.7,483.9 604.2,484.0 606.8,484.1 609.3,484.2 611.9,484.3 614.4,484.4 617.0,484.5 619.5,484.6 622.0,484.7 624.6,484.8 627.1,484.9 629.7,485.0 632.2,485.1 634.8,485.2 637.3,485.3 639.8,485.4 642.4,485.4 644.9,485.5 647.5,485.6 650.0,485.6 652.5,485.7 655.1,485.7 657.6,485.8 660.2,485.8 662.7,485.9 665.3,485.9 667.8,485.9 670.3,486.0 672.9,486.0 675.4,486.0 678.0,486.0 680.5,486.0"/>
</g>
<line x1="135.1" y1="351.6" x2="262" y2="220.1" stroke="#ff00ff" stroke-width="3.9"/>
<polygon points="271.8,210 252.8,218.8 262.0,220.4 263.8,229.6" fill="#ff00ff"/>
<text class="t" x="70.5" y="514.2" text-anchor="middle">0</text>
<text class="t" x="172.2" y="514.2" text-anchor="middle">0.5</text>
<text class="t" x="273.8" y="514.2" text-anchor="middle">1</text>
<text class="t" x="375.5" y="514.2" text-anchor="middle">1.5</text>
<text class="t" x="477.2" y="514.2" text-anchor="middle">2</text>
<text class="t" x="578.8" y="514.2" text-anchor="middle">2.5</text>
<text class="t" x="680.5" y="514.2" text-anchor="middle">3</text>
<text class="t" x="62.3" y="495.0" text-anchor="end">0</text>
<text class="t" x="62.3" y="398.7" text-anchor="end">0.05</text>
<text class="t" x="62.3" y="302.4" text-anchor="end">0.1</text>
<text class="t" x="62.3" y="206.1" text-anchor="end">0.15</text>
<text class="t" x="62.3" y="109.8" text-anchor="end">0.2</text>
<text class="t" x="62.3" y="13.5" text-anchor="end">0.25</text>
<text class="s" style="font-size:21px;font-style:italic" x="374.7" y="541.5" text-anchor="middle">ζ</text>
<text class="t" style="font-size:20.3px" transform="translate(15.6,242.7) rotate(-90)" text-anchor="middle" letter-spacing="0.6"><tspan font-style="italic" class="z" style="font-size:20px">θ</tspan>(<tspan font-style="italic" class="z">ζ</tspan>)</text>
<text class="s" x="227.8" y="191.2" style="font-size:20px;font-style:italic">θ</text>
<text class="t" x="238.2" y="199" style="font-size:13.9px">w</text>
<text class="t" x="254.2" y="189.9">=</text>
<text class="t" x="270.6" y="190.8">0.1, 0.5, 1.0</text>
<text class="s" x="373.6" y="34.5">Green</text><text class="s" x="440.3" y="34.5">Ternary hybrid nanofluid</text>
<text class="s" x="373.6" y="58.7">Red</text><text class="s" x="438.8" y="58.7" style="font-size:20.5px">Hybrid nanofluid</text>
<text class="s" x="373.6" y="82.9">Blue</text><text class="s" x="439.3" y="82.9" style="font-size:20.55px">Nanofluid</text>
</svg></body></html>
